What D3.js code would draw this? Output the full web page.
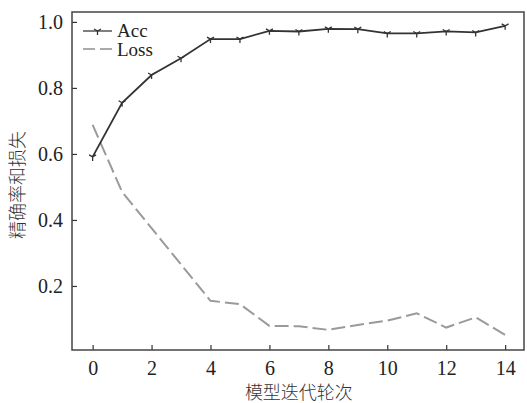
<!DOCTYPE html>
<meta charset="utf-8">
<html>
<head>
<style>
  body { margin: 0; background: #fff; }
  .tick text { font-family: "Liberation Serif", serif; font-size: 20px; fill: #222; }
</style>
<script src="https://d3js.org/d3.v7.min.js"></script>
</head>
<body>
<script>
// Data
var epochs = [0, 1, 2, 3, 4, 5, 6, 7, 8, 9, 10, 11, 12, 13, 14];
var acc  = [0.591, 0.755, 0.839, 0.89, 0.948, 0.948, 0.973, 0.971, 0.979, 0.978, 0.965, 0.965, 0.971, 0.968, 0.988];
var loss = [0.688, 0.485, 0.375, 0.265, 0.155, 0.145, 0.079, 0.078, 0.067, 0.082, 0.095, 0.117, 0.074, 0.105, 0.052];
var xTicks = [0, 2, 4, 6, 8, 10, 12, 14];
var yTicks = [0.2, 0.4, 0.6, 0.8, 1.0];

var width = 527, height = 403;
var margin = {left: 72, right: 3, top: 12, bottom: 53};

var svg = d3.select("body").append("svg")
    .attr("width", width)
    .attr("height", height);

var x = d3.scaleLinear().domain([-0.7, 14.64]).range([margin.left, width - margin.right]);
var y = d3.scaleLinear().domain([0.006, 1.03]).range([height - margin.bottom, margin.top]);

// Axes with inward ticks
var xAxis = svg.append("g")
    .attr("transform", "translate(0," + (height - margin.bottom) + ")")
    .call(d3.axisBottom(x).tickValues(xTicks).tickSize(-5).tickPadding(11).tickFormat(d3.format("d")));
var yAxis = svg.append("g")
    .attr("transform", "translate(" + margin.left + ",0)")
    .call(d3.axisLeft(y).tickValues(yTicks).tickSize(-5).tickPadding(9).tickFormat(d3.format(".1f")));
svg.selectAll(".domain").remove();
svg.selectAll(".tick line").attr("stroke", "#333").attr("stroke-width", 1.2);
xAxis.selectAll("text").attr("dy", "0.71em");

// Frame
svg.append("rect")
    .attr("x", margin.left)
    .attr("y", margin.top)
    .attr("width", width - margin.right - margin.left)
    .attr("height", height - margin.bottom - margin.top)
    .attr("fill", "none")
    .attr("stroke", "#444")
    .attr("stroke-width", 1.5);

var line = d3.line()
    .x(function(d) { return x(d[0]); })
    .y(function(d) { return y(d[1]); });

// Loss (dashed, light gray)
svg.append("path")
    .datum(epochs.map(function(e, i) { return [e, loss[i]]; }))
    .attr("fill", "none")
    .attr("stroke", "#9a9a9a")
    .attr("stroke-width", 2)
    .attr("stroke-dasharray", "14,5")
    .attr("d", line);

// Acc (solid, dark gray) with tri_down markers
svg.append("path")
    .datum(epochs.map(function(e, i) { return [e, acc[i]]; }))
    .attr("fill", "none")
    .attr("stroke", "#333")
    .attr("stroke-width", 1.8)
    .attr("d", line);

function triDown(g, cx, cy) {
    var s = 4;
    g.append("path")
        .attr("d", "M" + cx + "," + cy + "v" + s +
                   "M" + cx + "," + cy + "l" + (-s * 0.866) + "," + (-s * 0.5) +
                   "M" + cx + "," + cy + "l" + (s * 0.866) + "," + (-s * 0.5))
        .attr("stroke", "#333")
        .attr("stroke-width", 1.3)
        .attr("fill", "none");
}
var marks = svg.append("g");
epochs.forEach(function(e, i) { triDown(marks, x(e), y(acc[i])); });

// Legend
var lg = svg.append("g");
lg.append("line").attr("x1", 83).attr("x2", 112).attr("y1", 31).attr("y2", 31)
    .attr("stroke", "#555").attr("stroke-width", 1.5);
triDown(lg, 97.5, 31);
lg.append("line").attr("x1", 83).attr("x2", 112).attr("y1", 49).attr("y2", 49)
    .attr("stroke", "#aaa").attr("stroke-width", 2).attr("stroke-dasharray", "12,5");
lg.append("text").attr("x", 117).attr("y", 37)
    .style("font-family", "Liberation Serif, serif").style("font-size", "19px").attr("fill", "#222")
    .text("Acc");
lg.append("text").attr("x", 117).attr("y", 56)
    .style("font-family", "Liberation Serif, serif").style("font-size", "19px").attr("fill", "#222")
    .text("Loss");

// Axis titles
svg.append("text")
    .attr("x", x(7))
    .attr("y", 399)
    .attr("text-anchor", "middle")
    .style("font-family", "Noto Sans CJK SC, sans-serif")
    .style("font-size", "18px")
    .style("font-weight", 300)
    .attr("fill", "#333")
    .text("模型迭代轮次");

svg.append("text")
    .attr("transform", "translate(24," + 185 + ") rotate(-90)")
    .attr("text-anchor", "middle")
    .style("font-family", "Noto Sans CJK SC, sans-serif")
    .style("font-size", "18px")
    .style("font-weight", 300)
    .attr("fill", "#333")
    .text("精确率和损失");
</script>
</body>
</html>
